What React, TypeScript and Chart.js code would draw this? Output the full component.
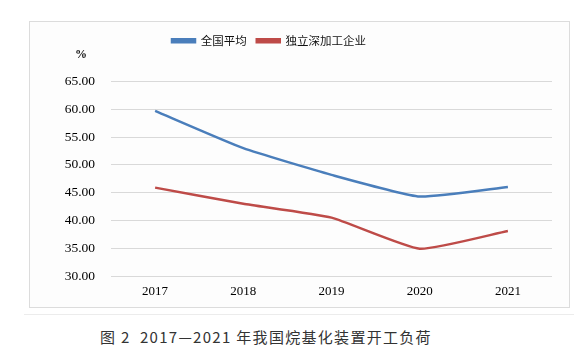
import React, { useEffect, useRef } from "react";
import { Chart, registerables } from "chart.js";

Chart.register(...registerables);

const years = ["2017", "2018", "2019", "2020", "2021"];
const nationalAvg = [59.7, 53.0, 48.2, 44.3, 46.0];
const independent = [45.9, 43.0, 40.5, 34.9, 38.1];
const seriesNames = ["全国平均", "独立深加工企业"];
const yMin = 30;
const yMax = 65;
const yStep = 5;

const legendSpacer = {
  id: "legendSpacer",
  afterInit(chart: any) {
    const legend = chart.legend;
    if (!legend) return;
    const orig = legend.fit;
    legend.fit = function () {
      orig.call(this);
      this.height += 25;
    };
  },
  afterLayout(chart: any) {
    const legend = chart.legend;
    if (!legend) return;
    legend.left -= 22;
    legend.right -= 22;
  },
};

export default function App() {
  const ref = useRef<HTMLCanvasElement | null>(null);
  useEffect(() => {
    if (!ref.current) return;
    const chart = new Chart(ref.current, {
      type: "line",
      data: {
        labels: years,
        datasets: [
          {
            label: seriesNames[0],
            data: nationalAvg,
            borderColor: "#4a7ebb",
            backgroundColor: "#4a7ebb",
            borderWidth: 2.5,
            pointRadius: 0,
            tension: 0.15,
          },
          {
            label: seriesNames[1],
            data: independent,
            borderColor: "#be4b48",
            backgroundColor: "#be4b48",
            borderWidth: 2.5,
            pointRadius: 0,
            tension: 0.15,
          },
        ],
      },
      options: {
        animation: false,
        responsive: false,
        maintainAspectRatio: false,
        layout: { padding: { top: 3, right: 17, left: 0, bottom: 0 } },
        plugins: {
          tooltip: { enabled: false },
          legend: {
            display: true,
            position: "top",
            labels: {
              boxWidth: 23,
              boxHeight: 3,
              padding: 10,
              color: "#111",
              font: { family: "'Noto Sans CJK SC', sans-serif", size: 11.5 },
            },
          },
        },
        scales: {
          x: {
            offset: true,
            grid: { display: false, drawTicks: false },
            border: { display: false },
            ticks: {
              color: "#000",
              padding: 8,
              font: { family: "'Liberation Serif', serif", size: 13 },
            },
            afterFit(scale: any) {
              scale.height = 31;
            },
          },
          y: {
            min: yMin,
            max: yMax,
            ticks: {
              stepSize: yStep,
              color: "#000",
              padding: 16,
              font: { family: "'Liberation Serif', serif", size: 13.5 },
              callback: (v: any) => Number(v).toFixed(2),
            },
            grid: { color: "#d9d9d9", lineWidth: 1, drawTicks: false },
            border: { display: false },
            afterFit(scale: any) {
              scale.width = 81;
            },
          },
        },
      },
      plugins: [legendSpacer],
    });
    return () => chart.destroy();
  }, []);

  return (
    <div style={{ position: "absolute", left: 0, top: 0, width: 586, height: 359, background: "#fff" }}>
      <div
        style={{
          position: "absolute",
          left: 29,
          top: 21,
          width: 541,
          height: 287,
          boxSizing: "border-box",
          border: "1px solid #dcdcdc",
          background: "#fdfdfd",
        }}
      >
        <canvas ref={ref} width={539} height={285} style={{ display: "block" }} />
        <div
          style={{
            position: "absolute",
            left: 45,
            top: 25,
            fontFamily: "'Liberation Serif', serif",
            fontWeight: "bold",
            fontSize: 12,
            color: "#111",
          }}
        >
          %
        </div>
      </div>
      <div style={{ position: "absolute", left: 24, top: 314, width: 550, height: 1, background: "#ececec" }} />
      <div
        style={{
          position: "absolute",
          left: 100,
          top: 326,
          fontFamily: "'Noto Sans CJK SC', sans-serif",
          fontSize: 15,
          color: "#333",
          letterSpacing: 1.3,
          whiteSpace: "pre",
        }}
      >
        图 2  2017—2021 年我国烷基化装置开工负荷
      </div>
    </div>
  );
}
